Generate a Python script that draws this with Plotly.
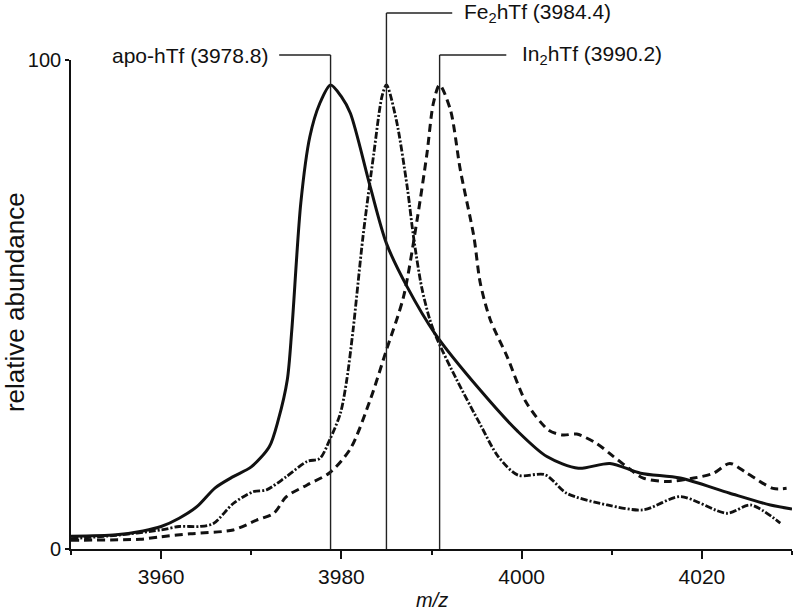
import plotly.graph_objects as go

# ---- data ----
apo_x = [3950, 3955, 3958, 3960, 3962, 3964, 3966, 3968, 3970, 3972, 3973, 3974, 3974.5, 3975.5,
         3976.5, 3977.6, 3978.8, 3980, 3981, 3983.2, 3985, 3987.3, 3990.4, 3995.4, 3999.6, 4002.8,
         4006.3, 4009.8, 4013.2, 4017.6, 4023.1, 4027.6, 4030]
apo_y = [2.6, 2.9, 3.7, 4.6, 6.3, 8.7, 12.5, 14.8, 16.8, 20.9, 26.4, 34.6, 44.8, 70.8,
         84.3, 91.1, 94.9, 92.5, 89.1, 74.1, 62.5, 53.6, 44.0, 32.5, 24.0, 18.9,
         16.5, 17.5, 15.5, 14.5, 11.4, 9.0, 8.2]

fe_x = [3950, 3955, 3960, 3962, 3964.3, 3965.8, 3968, 3970.2, 3971.7, 3973.9, 3976.2, 3977.6, 3978.7,
        3979.9, 3980.6, 3981.3, 3982.4, 3983.6, 3984.5, 3985.0, 3986.1, 3987.3, 3988.0, 3988.9,
        3989.8, 3990.6, 3992.8, 3995.4, 3997.4, 3999.6, 4002.6, 4005.0, 4009.5, 4013.5, 4017.6,
        4022.8, 4025.4, 4028.7]
fe_y = [2.1, 2.8, 3.9, 4.6, 4.6, 5.2, 9.3, 11.7, 12.1, 14.8, 17.9, 18.5, 22.3,
        27.8, 34.6, 44.8, 63.9, 80.9, 92.5, 94.9, 87.7, 74.1, 63.9, 53.6,
        47.0, 43.0, 34.6, 25.5, 18.9, 15.1, 15.2, 11.4, 9.0, 8.0, 10.7,
        7.3, 9.0, 5.3]

in_x = [3950, 3957.7, 3960, 3963.2, 3968, 3970.6, 3972.5, 3973.9, 3976.2, 3978.7, 3981.0, 3983.2,
        3985.0, 3986.9, 3988.4, 3989.5, 3990.2, 3990.9, 3992.1, 3993.2, 3994.7, 3995.4, 3996.5,
        3998.4, 4000.5, 4003.0, 4004.6, 4006.1, 4008.3, 4010.2, 4012.4, 4013.5, 4016.1, 4019.1,
        4021.3, 4023.1, 4025.0, 4027.9, 4029.4]
in_y = [1.8, 2.0, 2.5, 3.1, 3.9, 5.9, 7.3, 10.7, 13.1, 15.6, 20.5, 30.5,
        40.7, 51.6, 67.3, 80.9, 91.1, 94.9, 89.8, 77.5, 63.9, 54.5, 47.0,
        39.3, 30.0, 24.3, 23.3, 23.5, 21.6, 18.9, 15.8, 14.5, 13.8, 14.5,
        15.5, 17.5, 15.5, 12.4, 12.4]

peak_labels = ["apo-hTf (3978.8)", "Fe<sub>2</sub>hTf (3984.4)", "In<sub>2</sub>hTf (3990.2)"]
marker_x = [3978.8, 3985.0, 3990.9]

x_ticks = [3960, 3980, 4000, 4020]
y_ticks = [0, 100]

FONT = "Liberation Sans, Arial, Helvetica, sans-serif"
INK = "#111"

fig = go.Figure()
fig.add_trace(go.Scatter(x=apo_x, y=apo_y, mode="lines",
                         line=dict(color=INK, width=3, shape="spline", smoothing=0.8)))
fig.add_trace(go.Scatter(x=fe_x, y=fe_y, mode="lines",
                         line=dict(color=INK, width=2.8, shape="spline", smoothing=0.8,
                                   dash="7px,2px,2px,2px")))
fig.add_trace(go.Scatter(x=in_x, y=in_y, mode="lines",
                         line=dict(color=INK, width=3, shape="spline", smoothing=0.8,
                                   dash="8px,5px")))

# marker lines and labels (top position in paper units, horizontal arm end, label anchor)
tops = [1.0102, 1.096, 1.0102]
arm_end = [3973.1, 3992.3, 3998.3]
label_x = [3972.1, 3993.4, 3999.8]
anchors = ["right", "left", "left"]
for mx, top, ae, lx, anc, txt in zip(marker_x, tops, arm_end, label_x, anchors, peak_labels):
    fig.add_shape(type="line", xref="x", yref="paper", x0=mx, x1=mx, y0=0, y1=top,
                  line=dict(color="#222", width=1.4))
    fig.add_shape(type="line", xref="x", yref="paper", x0=mx, x1=ae, y0=top, y1=top,
                  line=dict(color="#222", width=1.4))
    fig.add_annotation(x=lx, y=top, xref="x", yref="paper", text=txt, showarrow=False,
                       xanchor=anc, yanchor="middle", font=dict(size=21, color=INK, family=FONT))

# axis titles
fig.add_annotation(x=0.5, y=-0.104, xref="paper", yref="paper", text="<i>m/z</i>",
                   showarrow=False, xanchor="center", yanchor="middle",
                   font=dict(size=20, color=INK, family=FONT))
fig.add_annotation(x=-0.0777, y=0.505, xref="paper", yref="paper", text="relative abundance",
                   showarrow=False, xanchor="center", yanchor="middle", textangle=-90,
                   font=dict(size=26, color=INK, family=FONT))

fig.update_layout(
    width=800, height=613,
    margin=dict(l=71, r=8, t=60, b=64, autoexpand=False),
    plot_bgcolor="white", paper_bgcolor="white",
    showlegend=False,
    font=dict(family=FONT, color=INK, size=20),
    xaxis=dict(range=[3950, 4030], tickvals=x_ticks, ticks="outside", ticklen=8, tickwidth=1.5,
               tickcolor=INK, showline=True, linecolor=INK, linewidth=1.6, showgrid=False,
               zeroline=False, tickfont=dict(size=21), automargin=False,
               minor=dict(tickvals=[3950, 3970, 3990, 4010, 4030], ticks="outside", ticklen=4,
                          tickwidth=1.5, tickcolor=INK)),
    yaxis=dict(range=[0, 100], tickvals=y_ticks, ticks="outside", ticklen=4, tickwidth=1.5,
               tickcolor=INK, showline=True, linecolor=INK, linewidth=1.6, showgrid=False,
               zeroline=False, tickfont=dict(size=20), automargin=False),
)

fig.write_html("out.html", config={"displayModeBar": False},
               post_script="document.body.style.margin='0';")
